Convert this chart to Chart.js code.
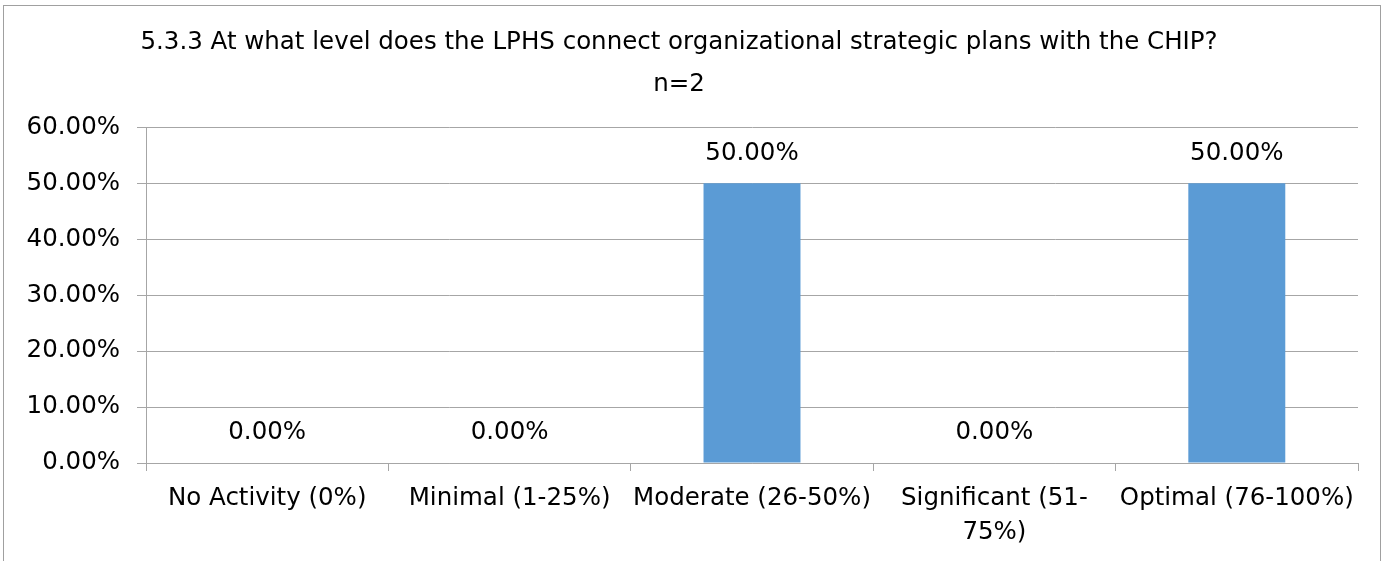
<!DOCTYPE html>
<html>
<head>
<meta charset="utf-8">
<script src="https://cdn.jsdelivr.net/npm/chart.js@4/dist/chart.umd.min.js"></script>
<style>
  html, body { margin: 0; padding: 0; background: #fff; }
  #wrap { position: relative; width: 1390px; height: 561px; }
  #frame { position: absolute; left: 3px; top: 5px; width: 1378px; height: 600px; border: 1px solid #a0a0a0; box-sizing: border-box; }
  canvas { position: absolute; left: 0; top: 0; }
</style>
</head>
<body>
<div id="wrap">
  <div id="frame"></div>
  <canvas id="chart" width="1390" height="561"></canvas>
</div>
<script>
const FONT = "'DejaVu Sans', 'Liberation Sans', Arial, sans-serif";
const SIZE = 24.5;

const titleLines = ['5.3.3 At what level does the LPHS connect organizational strategic plans with the CHIP?', 'n=2'];
const categories = [
  'No Activity (0%)',
  'Minimal (1-25%)',
  'Moderate (26-50%)',
  ['Significant (51-', '75%)'],
  'Optimal (76-100%)'
];
const percents = [0, 0, 50, 0, 50];
const yTicks = [0, 10, 20, 30, 40, 50, 60];

// draws the value text above each bar
const valueLabels = {
  id: 'valueLabels',
  afterDatasetsDraw(chart) {
    const ctx = chart.ctx;
    const meta = chart.getDatasetMeta(0);
    ctx.save();
    ctx.font = SIZE + 'px ' + FONT;
    ctx.fillStyle = '#000';
    ctx.textAlign = 'center';
    ctx.textBaseline = 'middle';
    meta.data.forEach((bar, i) => {
      ctx.fillText(percents[i].toFixed(2) + '%', bar.x, bar.y - 30);
    });
    ctx.restore();
  }
};

new Chart(document.getElementById('chart'), {
  type: 'bar',
  data: {
    labels: categories,
    datasets: [{
      data: percents,
      backgroundColor: '#5b9bd5',
      barPercentage: 0.4,
      categoryPercentage: 1.0
    }]
  },
  options: {
    responsive: false,
    animation: false,
    layout: { padding: { left: 0, right: 32, top: 0, bottom: 0 } },
    plugins: {
      legend: { display: false },
      tooltip: { enabled: false },
      title: {
        display: true,
        text: titleLines,
        color: '#000',
        font: { family: FONT, size: SIZE, weight: 'normal', lineHeight: 1.7 },
        padding: { top: 22, bottom: 22 }
      }
    },
    scales: {
      y: {
        min: 0,
        max: 60,
        afterBuildTicks(axis) { axis.ticks = yTicks.map(v => ({ value: v })); },
        afterFit(axis) { axis.width = 146; },
        border: { color: '#a6a6a6' },
        grid: { color: '#a6a6a6', tickLength: 9 },
        ticks: {
          padding: 17,
          color: '#000',
          font: { family: FONT, size: SIZE },
          callback: v => v.toFixed(2) + '%'
        }
      },
      x: {
        afterFit(axis) { axis.height = 98; },
        border: { color: '#a6a6a6' },
        grid: { drawOnChartArea: false, drawTicks: true, tickLength: 8, color: '#a6a6a6', offset: true },
        ticks: {
          padding: 10,
          color: '#000',
          maxRotation: 0,
          autoSkip: false,
          font: { family: FONT, size: SIZE, lineHeight: 1.4 }
        }
      }
    }
  },
  plugins: [valueLabels]
});
</script>
</body>
</html>
